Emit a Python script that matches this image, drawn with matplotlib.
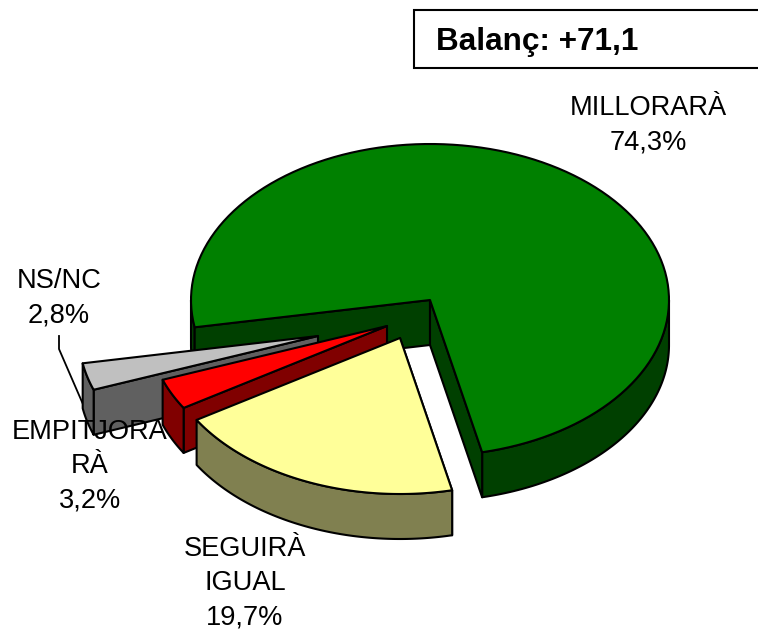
import numpy as np
import matplotlib.pyplot as plt
from matplotlib.patches import Rectangle

plt.rcParams['font.family'] = ['Liberation Sans', 'DejaVu Sans']

# slices, in clockwise order starting from the big one
names = ['MILLORARÀ', 'SEGUIRÀ\nIGUAL', 'EMPITJORA\nRÀ', 'NS/NC']
values = [74.3, 19.7, 3.2, 2.8]
value_labels = ['74,3%', '19,7%', '3,2%', '2,8%']
balance = 'Balanç: +71,1'

top_colors = ['#008000', '#FFFF99', '#FF0000', '#C0C0C0']
side_colors = ['#004000', '#808050', '#800000', '#606060']

# apex of each slice in pixels, the small ones are pulled out
apex_x = [430, 400, 387, 318]
apex_y = [300, 338, 326, 336]
rx, ry = 239, 156
depth = 45
lw = 1.5

label_x = [648, 245, 90, 59]
label_y = [125, 583, 466, 298]

fig = plt.figure(figsize=(7.58, 6.3), dpi=100)
ax = fig.add_axes([0, 0, 1, 1])
ax.set_xlim(0, 758)
ax.set_ylim(630, 0)
ax.axis('off')


def rim(cx, cy, a0, a1):
    t = np.radians(np.linspace(a0, a1, 120))
    return cx + rx * np.cos(t), cy - ry * np.sin(t)


def wall(x, y, color):
    # extrude a top edge downwards
    xs = np.concatenate([x, x[::-1]])
    ys = np.concatenate([y, y[::-1] + depth])
    ax.fill(xs, ys, facecolor=color, edgecolor='black', lw=lw, joinstyle='round')


def cut_wall(i, a):
    x, y = rim(apex_x[i], apex_y[i], a, a)
    wall(np.array([apex_x[i], x[0]]), np.array([apex_y[i], y[0]]), side_colors[i])


def top_face(i, a_low, a_high):
    x, y = rim(apex_x[i], apex_y[i], a_low, a_high)
    ax.fill(np.concatenate([[apex_x[i]], x]), np.concatenate([[apex_y[i]], y]),
            facecolor=top_colors[i], edgecolor='black', lw=lw, joinstyle='round')


# clockwise from the bottom edge of the big slice
start = -77.4
sweep = [360 * v / sum(values) for v in values]

# leader line goes behind the slices
ax.plot([59, 59, 92], [336, 349, 425], color='black', lw=1.3, zorder=1)

# big slice: right side and the sliver on the left, then both cut walls
a_low, a_high = start, start + sweep[0]
for a0, a1 in [(a_low, 0), (180, a_high)]:
    x, y = rim(apex_x[0], apex_y[0], a0, a1)
    wall(x, y, side_colors[0])
cut_wall(0, a_high)
cut_wall(0, a_low)
top_face(0, a_low, a_high)

# the rest, back to front
edges = [start]
for s in sweep[1:]:
    edges.append(edges[-1] - s)
for i in [3, 2, 1]:
    cut_wall(i, edges[i - 1])
    x, y = rim(apex_x[i], apex_y[i], edges[i], edges[i - 1])
    wall(x, y, side_colors[i])
    top_face(i, edges[i], edges[i - 1])

for i in range(len(names)):
    ax.text(label_x[i], label_y[i], names[i] + '\n' + value_labels[i], fontsize=19.6,
            ha='center', va='center', multialignment='center', linespacing=1.42,
            color='black', zorder=5)

ax.add_patch(Rectangle((413.5, 9.5), 400, 58.5, facecolor='white', edgecolor='black',
                       lw=1.5, zorder=4))
ax.text(436, 42, balance, fontsize=22.7, fontweight='bold', ha='left', va='center', zorder=5)

fig.savefig('out.png', dpi=100)
